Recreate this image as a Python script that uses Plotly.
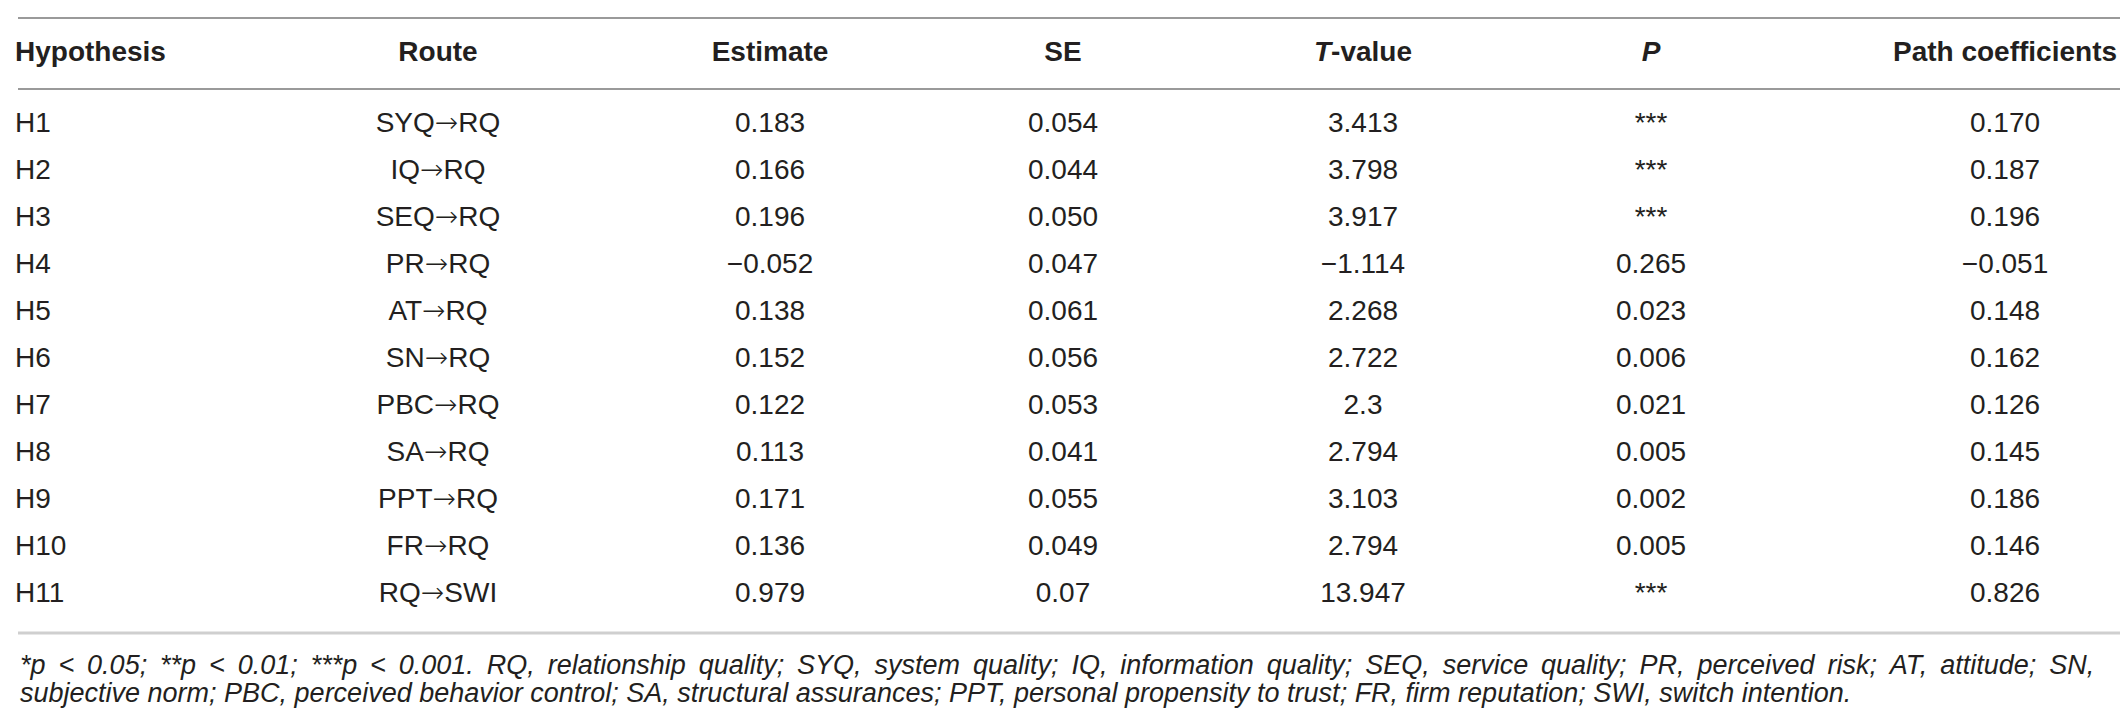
import plotly.graph_objects as go

## Table contents
headers = ["Hypothesis", "Route", "Estimate", "SE", "<i>T</i>-value", "<i>P</i>", "Path coefficients"]
hypothesis = ["H1", "H2", "H3", "H4", "H5", "H6", "H7", "H8", "H9", "H10", "H11"]
route = ["SYQ→RQ", "IQ→RQ", "SEQ→RQ", "PR→RQ", "AT→RQ", "SN→RQ", "PBC→RQ", "SA→RQ", "PPT→RQ", "FR→RQ", "RQ→SWI"]
estimate = ["0.183", "0.166", "0.196", "−0.052", "0.138", "0.152", "0.122", "0.113", "0.171", "0.136", "0.979"]
se = ["0.054", "0.044", "0.050", "0.047", "0.061", "0.056", "0.053", "0.041", "0.055", "0.049", "0.07"]
t_value = ["3.413", "3.798", "3.917", "−1.114", "2.268", "2.722", "2.3", "2.794", "3.103", "2.794", "13.947"]
p_value = ["***", "***", "***", "0.265", "0.023", "0.006", "0.021", "0.005", "0.002", "0.005", "***"]
path_coef = ["0.170", "0.187", "0.196", "−0.051", "0.148", "0.162", "0.126", "0.145", "0.186", "0.146", "0.826"]
footnote = [
    "*p < 0.05; **p < 0.01; ***p < 0.001. RQ, relationship quality; SYQ, system quality; IQ, information quality; "
    "SEQ, service quality; PR, perceived risk; AT, attitude; SN,",
    "subjective norm; PBC, perceived behavior control; SA, structural assurances; PPT, personal propensity to trust; "
    "FR, firm reputation; SWI, switch intention.",
]

## Layout (pixel units on the axes)
W, H = 2128, 718
col_x = [7, 430, 762, 1055, 1355, 1643, 1997]
header_y = 46
row_y0, row_step = 117, 47
FONT = "Liberation Sans, Arial, Helvetica, sans-serif"
INK = "#231f20"
SIZE = 28
NOTE_SIZE = 27

# the arrow glyph in Liberation Sans is tiny, borrow DejaVu's
arrow = "<span style='font-family:DejaVu Sans;font-weight:300'>→</span>"
route_txt = [r.replace("→", arrow) for r in route]

columns = [hypothesis, route_txt, estimate, se, t_value, p_value, path_coef]
rows_y = [row_y0 + i * row_step for i in range(len(hypothesis))]

fig = go.Figure()

# header row
for j, head in enumerate(headers):
    fig.add_trace(go.Scatter(
        x=[col_x[j]], y=[header_y], mode="text", text=[head],
        textposition="middle right" if j == 0 else "middle center",
        textfont=dict(family=FONT, size=SIZE, color=INK, weight="bold"),
        hoverinfo="skip", showlegend=False))

# body
for j, col in enumerate(columns):
    fig.add_trace(go.Scatter(
        x=[col_x[j]] * len(col), y=rows_y, mode="text", text=col,
        textposition="middle right" if j == 0 else "middle center",
        textfont=dict(family=FONT, size=SIZE, color=INK),
        hoverinfo="skip", showlegend=False))

# rules
fig.add_shape(type="line", x0=10, x1=2115, y0=10, y1=10, line=dict(color="#9a9a9a", width=2))
fig.add_shape(type="line", x0=10, x1=2115, y0=81, y1=81, line=dict(color="#9a9a9a", width=2))
fig.add_shape(type="line", x0=10, x1=2115, y0=625, y1=625, line=dict(color="#cfcfcf", width=3))

# footnote, first line stretched a bit like justified text
note_lines = [footnote[0].replace(" ", " \u2009"), footnote[1]]
for k, line in enumerate(note_lines):
    fig.add_annotation(x=10, y=657 + k * 28, xref="x", yref="y", text=line, showarrow=False,
                       xanchor="left", yanchor="middle",
                       font=dict(family=FONT, size=NOTE_SIZE, color=INK, style="italic"))

fig.update_xaxes(range=[0, W], visible=False, fixedrange=True)
fig.update_yaxes(range=[H, 0], visible=False, fixedrange=True)
fig.update_layout(width=W, height=H, margin=dict(l=0, r=0, t=0, b=0),
                  plot_bgcolor="white", paper_bgcolor="white")

fig.write_html("out.html")
